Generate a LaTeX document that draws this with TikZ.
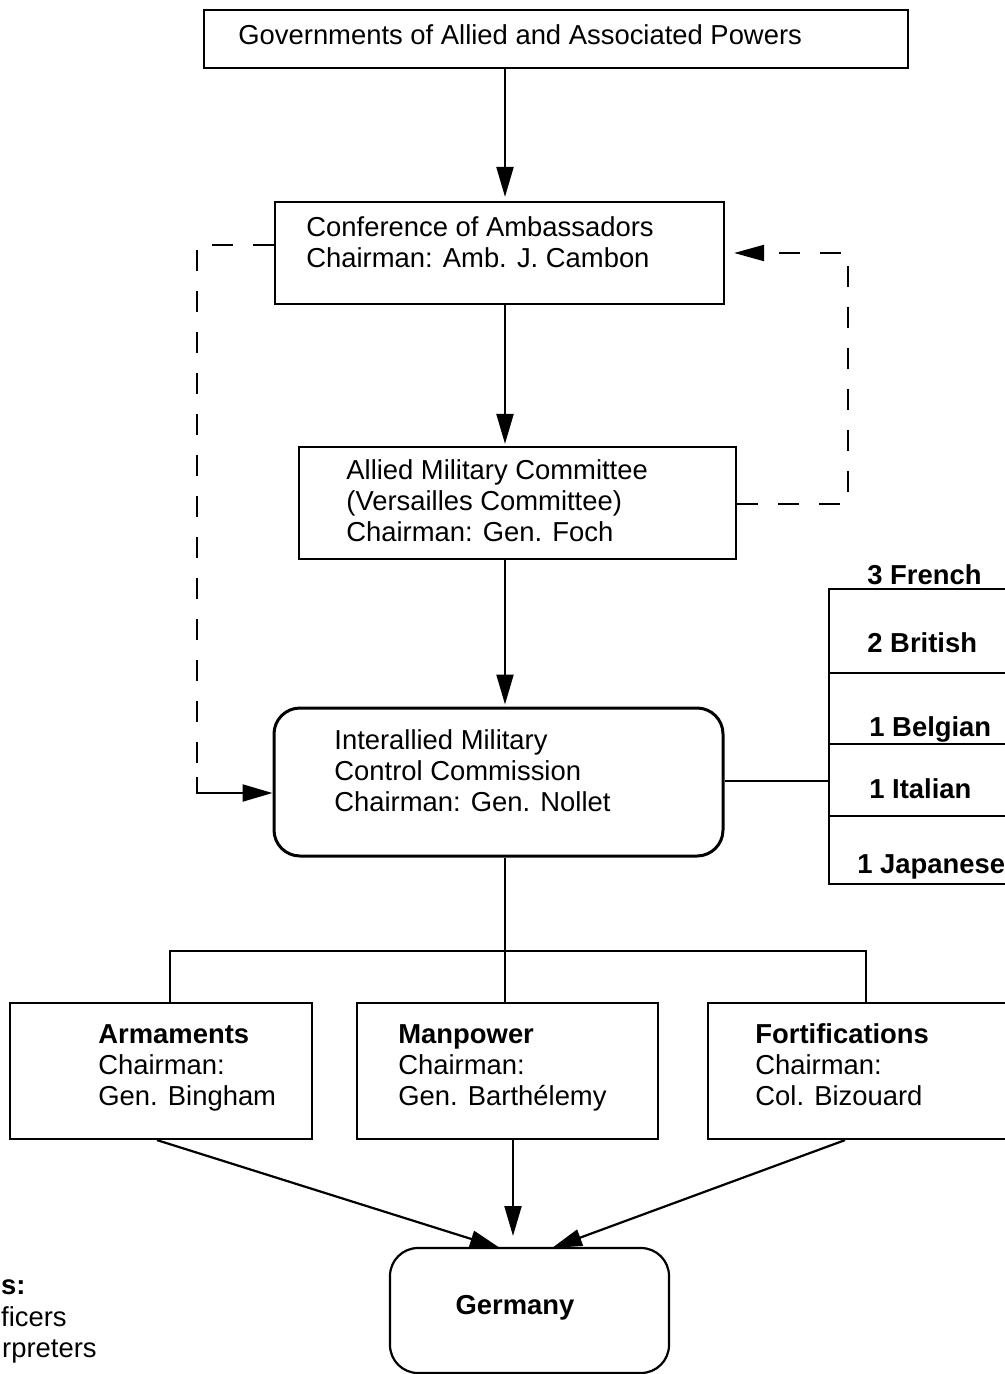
\documentclass[tikz,border=0pt]{standalone}
\usepackage{fontspec}
\setmainfont{Liberation Sans}
\usetikzlibrary{arrows.meta,fit}

\begin{document}
\begin{tikzpicture}[x=0.5pt,y=-0.5pt,
  box/.style={draw, line width=1.1pt, inner sep=0pt},
  rbox/.style={draw, line width=1.5pt, rounded corners=13pt, inner sep=0pt},
  txt/.style={inner sep=0pt, align=left, anchor=west, font=\fontsize{13.7}{15.5}\selectfont,
    execute at begin node=\strut, execute at end node=\strut},
  btxt/.style={txt, font=\fontsize{13.7}{15.5}\selectfont\bfseries},
  link/.style={line width=1.1pt},
  arr/.style={link, -{Triangle[length=15pt,width=8.5pt]}},
  dashlink/.style={link, dash pattern=on 10.5pt off 10pt},
]
\useasboundingbox (0,0) rectangle (1005,1374);
\clip (0,0) rectangle (1005,1374);

% main chain of command
\node[box, fit={(204,10) (908,68)}] (gov) {};
\node[txt] (govt) at (238,38.5) {Governments of Allied and Associated Powers};

\node[box, fit={(275,202) (724,304)}] (amb) {};
\node[txt] (ambt) at (306,247) {Conference of Ambassadors\\Chairman: Amb. J. Cambon};

\node[box, fit={(299,447) (736,559)}] (amc) {};
\node[txt] (amct) at (346,505.5) {Allied Military Committee\\(Versailles Committee)\\Chairman: Gen. Foch};

\node[rbox, fit={(274,708) (723,856)}] (imcc) {};
\node[txt] (imcct) at (334,775.5) {Interallied Military\\Control Commission\\Chairman: Gen. Nollet};

\coordinate (spine) at (505,0);
\draw[arr, shorten >=2pt] (gov.south -| spine) -- (amb.north -| spine);
\draw[arr, shorten >=1pt] (amb.south -| spine) -- (amc.north -| spine);
\draw[arr, shorten >=1pt] (amc.south -| spine) -- (imcc.north -| spine);

% dashed channel from the Conference to the Commission
\coordinate (lt) at (197,245);
\coordinate (lm) at (197,777);
\coordinate (lb) at (197,793);
\draw[dashlink] (amb.west |- lt) -- (lt) -- (lm);
\draw[arr] (lm) -- (lb) -- (lb -| imcc.west);

% dashed report from the Committee back to the Conference
\coordinate (rb) at (848,504);
\coordinate (rt) at (848,253);
\draw[dashlink, -{Triangle[length=15pt,width=8pt]}, shorten >=4.5pt]
  (amc.east |- rb) -- (rb) -- (rt) -- (rt -| amb.east);

% national composition of the Commission
\node[btxt] (fr) at (867,578.5) {3 French};
\node[box, fit={(829,589) (1040,673)}] (c1) {};
\node[box, fit={(829,673) (1040,744)}] (c2) {};
\node[box, fit={(829,744) (1040,816)}] (c3) {};
\node[box, fit={(829,816) (1040,884)}] (c4) {};
\node[btxt] (br) at (867,646.5) {2 British};
\node[btxt] (be) at (869,730.5) {1 Belgian};
\node[btxt] (it) at (869,792.5) {1 Italian};
\node[btxt] (jp) at (857,867.5) {1 Japanese};
\coordinate (sl) at (0,781);
\draw[link] (imcc.east |- sl) -- (c3.west |- sl);

% sub-commissions
\node[box, fit={(10,1003) (312,1139)}] (arm) {};
\node[txt] (armt) at (98,1069.5) {\textbf{Armaments}\\Chairman:\\Gen. Bingham};
\node[box, fit={(357,1003) (658,1139)}] (man) {};
\node[txt] (mant) at (398,1069.5) {\textbf{Manpower}\\Chairman:\\Gen. Barth\'elemy};
\node[box, fit={(708,1003) (1040,1139)}] (fort) {};
\node[txt] (fortt) at (755,1069.5) {\textbf{Fortifications}\\Chairman:\\Col. Bizouard};

\coordinate (bus) at (0,951);
\coordinate (da) at (170,0);
\coordinate (df) at (866,0);
\draw[link] (imcc.south -| spine) -- (man.north -| spine);
\draw[link] (da |- arm.north) -- (da |- bus) -- (df |- bus) -- (df |- fort.north);

% Germany
\node[box, rounded corners=14pt, fit={(390,1248) (669,1373)}] (ger) {};
\node[btxt, anchor=center] (gert) at (515,1308.5) {Germany};
\coordinate (ga) at (500,1248);
\coordinate (gm) at (513,1236);
\coordinate (gf) at (552,1248);
\coordinate (fa) at (157,0);
\coordinate (ff) at (845,0);
\draw[arr] (fa |- arm.south) -- (ga);
\draw[arr] (gm |- man.south) -- (gm);
\draw[arr] (ff |- fort.south) -- (gf);

% legend (cut at the left margin)
\node[btxt, anchor=east] (lg1) at (26,1288.5) {s:};
\node[txt, anchor=east] (lg2) at (67,1320.5) {ficers};
\node[txt, anchor=east] (lg3) at (97,1351.5) {rpreters};
\end{tikzpicture}
\end{document}
